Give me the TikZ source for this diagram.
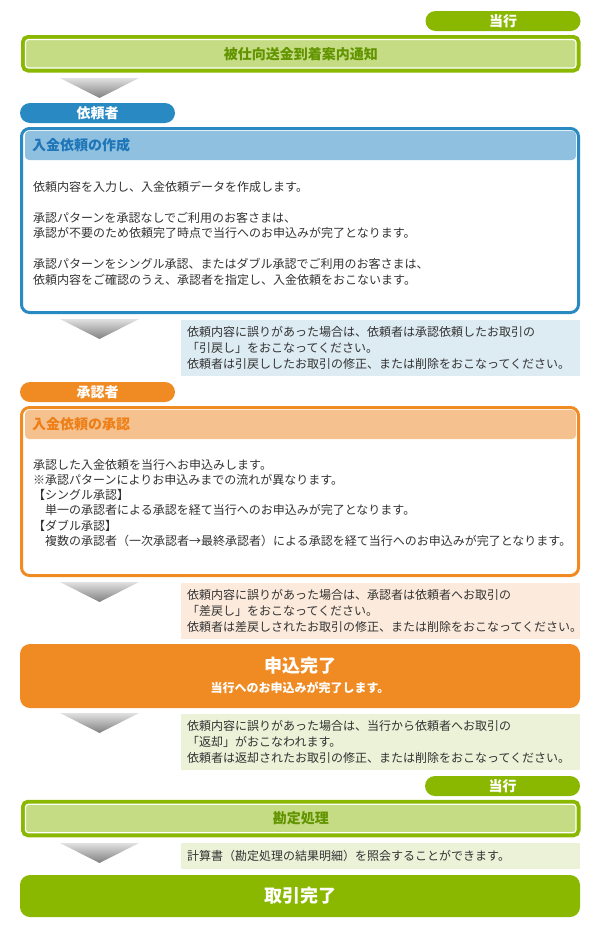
\documentclass[tikz,border=0pt]{standalone}
\usepackage{fontspec}
\setmainfont{Noto Sans CJK JP}
\usepackage{xcolor}
\definecolor{bankgreen}{RGB}{138,184,0}
\definecolor{banklight}{RGB}{197,220,133}
\definecolor{banktext}{RGB}{98,148,0}
\definecolor{banknote}{RGB}{235,242,216}
\definecolor{clientblue}{RGB}{41,137,195}
\definecolor{clientlight}{RGB}{143,192,224}
\definecolor{clienttext}{RGB}{30,118,184}
\definecolor{clientnote}{RGB}{221,235,243}
\definecolor{approverorange}{RGB}{240,139,36}
\definecolor{approverlight}{RGB}{245,194,143}
\definecolor{approvertext}{RGB}{238,126,22}
\definecolor{approvernote}{RGB}{252,235,220}
\definecolor{bodygray}{RGB}{51,51,51}

\tikzset{
  tabpill/.style={fill=#1, text=white, font=\bfseries\fontsize{14}{14}\selectfont, minimum width=155pt, minimum height=20pt, rounded corners=10pt, inner sep=0pt},
  framebox/.style={fill=banklight, draw=white, line width=1.2pt, rounded corners=3pt, preaction={draw=bankgreen, line width=9pt}, minimum width=550.5pt, minimum height=28.5pt, inner sep=0pt, text=banktext, font=\bfseries\fontsize{14}{14}\selectfont},
  panel/.style={draw=#1, line width=3pt, fill=white, rounded corners=8pt, minimum width=557pt, inner sep=0pt},
  panelhead/.style={fill=#1, rounded corners=4pt, minimum width=551pt, minimum height=29pt, text width=537pt, inner xsep=7pt, inner ysep=0pt, align=left, font=\bfseries\fontsize{14}{14}\selectfont},
  bodytext/.style={anchor=north west, inner sep=0pt, align=left, text=bodygray, font=\fontsize{12}{15.5}\selectfont},
  notebox/.style={fill=#1, anchor=north west, minimum width=399pt, text width=387pt, inner xsep=6pt, inner ysep=0pt, align=left, text=bodygray, font=\fontsize{12}{16}\selectfont},
  donebox/.style={fill=#1, rounded corners=10pt, minimum width=560pt, inner sep=0pt, text=white}
}

\begin{document}
\begin{tikzpicture}[x=1pt, y=-1pt]
\useasboundingbox (0,0) rectangle (600,937);

% 当行：案内通知
\node[tabpill=bankgreen] (bankTabTop) at (503,21) {当行};
\node[framebox] (notice) at (300.75,53.75) {被仕向送金到着案内通知};

% 依頼者
\node[tabpill=clientblue] (clientTab) at (97.5,113) {依頼者};
\node[panel=clientblue, minimum height=184pt] (clientPanel) at (300,220.5) {};
\node[panelhead=clientlight, text=clienttext] (clientHead) at (300.5,145.5) {入金依頼の作成};
\node[bodytext] (clientBody) at (33,181) {
依頼内容を入力し、入金依頼データを作成します。\\[15.5pt]
承認パターンを承認なしでご利用のお客さまは、\\
承認が不要のため依頼完了時点で当行へのお申込みが完了となります。\\[15.5pt]
承認パターンをシングル承認、またはダブル承認でご利用のお客さまは、\\
依頼内容をご確認のうえ、承認者を指定し、入金依頼をおこないます。
};
\node[notebox=clientnote, minimum height=56pt] (clientNote) at (181,320) {
依頼内容に誤りがあった場合は、依頼者は承認依頼したお取引の\\
「引戻し」をおこなってください。\\
依頼者は引戻ししたお取引の修正、または削除をおこなってください。
};

% 承認者
\node[tabpill=approverorange] (approverTab) at (97.5,392) {承認者};
\node[panel=approverorange, minimum height=168pt] (approverPanel) at (300,491.5) {};
\node[panelhead=approverlight, text=approvertext] (approverHead) at (300.5,424.5) {入金依頼の承認};
\node[bodytext, font=\fontsize{12}{15.2}\selectfont] (approverBody) at (33,459) {
承認した入金依頼を当行へお申込みします。\\
※承認パターンによりお申込みまでの流れが異なります。\\
【シングル承認】\\
\hspace*{12pt}単一の承認者による承認を経て当行へのお申込みが完了となります。\\
【ダブル承認】\\
\hspace*{12pt}複数の承認者（一次承認者→最終承認者）による承認を経て当行へのお申込みが完了となります。
};
\node[notebox=approvernote, minimum height=56pt] (approverNote) at (181,583) {
依頼内容に誤りがあった場合は、承認者は依頼者へお取引の\\
「差戻し」をおこなってください。\\
依頼者は差戻しされたお取引の修正、または削除をおこなってください。
};

% 申込完了
\node[donebox=approverorange, minimum height=64pt] (applyDone) at (300,676) {};
\node[text=white, font=\bfseries\fontsize{18}{18}\selectfont, inner sep=0pt] (applyTitle) at (300,666) {申込完了};
\node[text=white, font=\bfseries\fontsize{12}{12}\selectfont, inner sep=0pt] (applySub) at (300,688) {当行へのお申込みが完了します。};
\node[notebox=banknote, minimum height=56pt] (returnNote) at (181,714) {
依頼内容に誤りがあった場合は、当行から依頼者へお取引の\\
「返却」がおこなわれます。\\
依頼者は返却されたお取引の修正、または削除をおこなってください。
};

% 当行：勘定処理
\node[tabpill=bankgreen] (bankTabBottom) at (502.5,786) {当行};
\node[framebox] (accounting) at (300.75,818.5) {勘定処理};
\node[notebox=banknote, minimum height=26pt] (statementNote) at (181,843) {
計算書（勘定処理の結果明細）を照会することができます。
};
\node[donebox=bankgreen, minimum height=42pt, font=\bfseries\fontsize{18}{18}\selectfont] (tradeDone) at (300,896) {取引完了};

% 下向きの矢印
\foreach \ytop in {78,319,582,713,843}
  \shade[top color=black!12, bottom color=black!50] (60,\ytop) -- (139,\ytop) -- (99.5,\ytop+20) -- cycle;

\end{tikzpicture}
\end{document}
